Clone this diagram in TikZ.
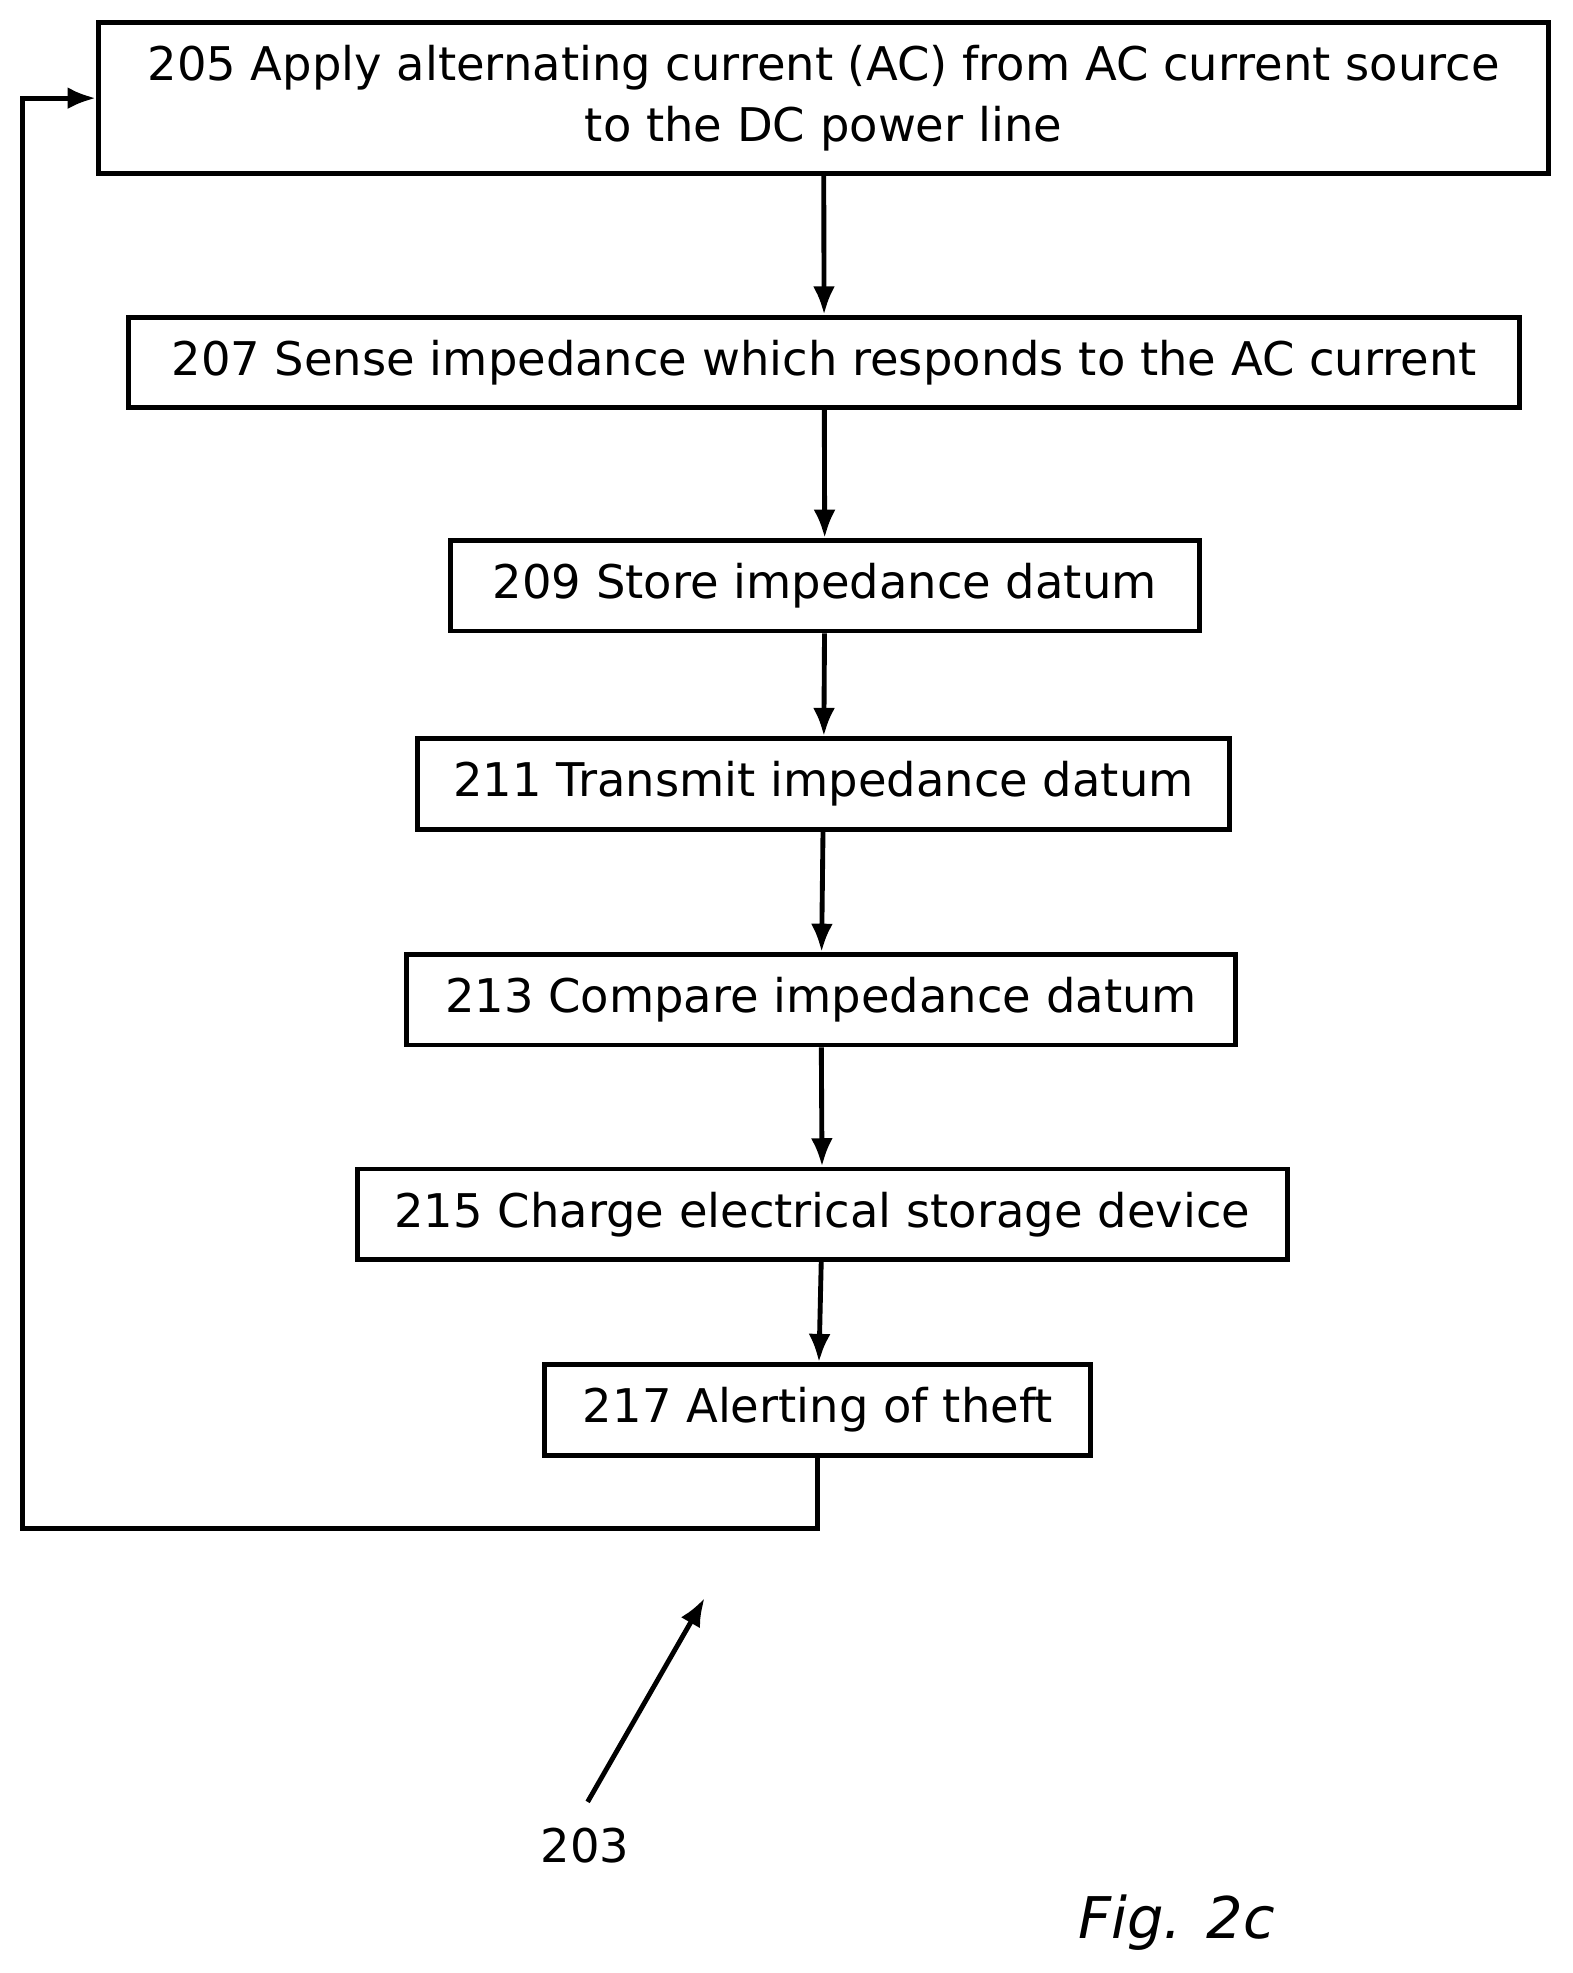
\documentclass[tikz,border=0pt]{standalone}
\usepackage{fontspec}
\setmainfont{DejaVu Sans}
\usepackage{tikz}
\usetikzlibrary{arrows.meta}
\tikzstyle{stage} = [rectangle, draw=black, line width=2.2pt, fill=white, text centered, inner sep=0pt, minimum height=1.44cm, font=\fontsize{21}{28}\selectfont]
\tikzstyle{arrow} = [line width=2.2pt,-{Latex[length=0.45cm,width=0.35cm]}]

\begin{document}
\begin{tikzpicture}[x=0.02cm, y=-0.02cm]
    \useasboundingbox (0,0) rectangle (1250,1568);
    \node (s205) [stage, minimum width=23.06cm, minimum height=2.4cm, align=center] at (654.5,78) {205 Apply alternating current (AC) from AC current source\\to the DC power line};
    \node (s207) [stage, minimum width=22.12cm] at (655,288)    {207 Sense impedance which responds to the AC current};
    \node (s209) [stage, minimum width=11.9cm]  at (655.5,465.5) {209 Store impedance datum};
    \node (s211) [stage, minimum width=12.9cm]  at (654.5,623)  {211 Transmit impedance datum};
    \node (s213) [stage, minimum width=13.18cm] at (652.5,794.5) {213 Compare impedance datum};
    \node (s215) [stage, minimum width=14.78cm] at (653.5,965)  {215 Charge electrical storage device};
    \node (s217) [stage, minimum width=8.68cm]  at (650,1120.5) {217 Alerting of theft};
    \coordinate (c1) at (650,1215);
    \coordinate (c2) at (18,1215);
    \coordinate (c3) at (18,78);
    \node (n203) [font=\fontsize{21}{28}\selectfont] at (465,1467) {203};
    \coordinate (t203) at (560,1270);
    \coordinate (f203) at (467,1432);
    \node (fig) [font=\fontsize{26}{32}\selectfont\itshape] at (935,1528) {Fig. 2c};

    \draw [arrow] (s205) -- (s207);
    \draw [arrow] (s207) -- (s209);
    \draw [arrow] (s209) -- (s211);
    \draw [arrow] (s211) -- (s213);
    \draw [arrow] (s213) -- (s215);
    \draw [arrow] (s215) -- (s217);
    \draw [arrow] (s217.south) -- (c1) -- (c2) -- (c3) -- (s205.west);
    \draw [arrow] (f203) -- (t203);
\end{tikzpicture}
\end{document}
